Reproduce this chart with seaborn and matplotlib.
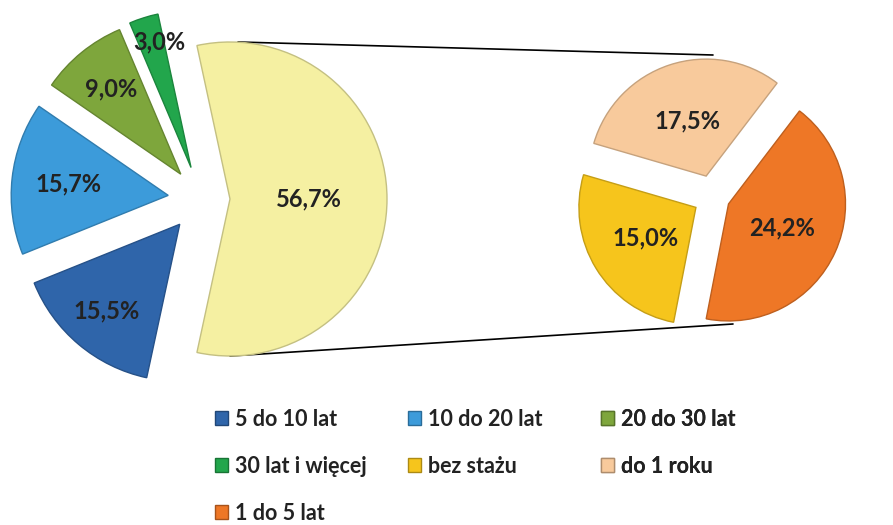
import matplotlib
matplotlib.use("Agg")
import numpy as np
import matplotlib.pyplot as plt
import seaborn as sns
from matplotlib.patches import Patch

# ---------------- data ----------------
main_labels = ["5 do 10 lat", "10 do 20 lat", "20 do 30 lat", "30 lat i więcej"]
main_values = [15.5, 15.7, 9.0, 3.0]
split_value = 56.7                      # share moved to the secondary pie
sub_labels = ["bez stażu", "do 1 roku", "1 do 5 lat"]
sub_values = [15.0, 17.5, 24.2]

main_colors = ["#2F65AA", "#3C9BDA", "#7EA63C", "#22A64C"]
split_color = "#F5F0A2"
sub_colors = ["#F6C51C", "#F8CA9C", "#EE7726"]

# ---------------- style ----------------
sns.set_theme(style="white")
plt.rcParams["font.family"] = ["Lato", "DejaVu Sans"]

W, H = 893, 525
fig = plt.figure(figsize=(W / 100, H / 100), dpi=100)
ax = fig.add_axes([0, 0, 1, 1])


def darker(c, f=0.75):
    r, g, b = matplotlib.colors.to_rgb(c)
    return (r * f, g * f, b * f)


def fmt(v):
    return f"{v:.1f}%".replace(".", ",")


LABEL_KW = dict(ha="center", va="center", fontsize=17, fontweight="bold", color="#222222")

# ---------------- left (primary) pie ----------------
left_vals = [split_value] + main_values[::-1]
left_cols = [split_color] + main_colors[::-1]
left_expl = [29, 33, 32, 33, 33]
left_txtd = [0.50, 0.84, 0.70, 0.64, 0.72]
total = sum(left_vals)
C1, R1 = (201, 326), 157
wl, _ = ax.pie(left_vals, colors=left_cols, explode=left_expl, center=C1, radius=R1,
               startangle=-split_value / total * 180, counterclock=True,
               wedgeprops=dict(linewidth=1.0))
for w, c in zip(wl, left_cols):
    w.set_edgecolor(darker(c, 0.8))
for w, v, d in zip(wl, left_vals, left_txtd):
    th = np.deg2rad((w.theta1 + w.theta2) / 2)
    x = w.center[0] + d * w.r * np.cos(th)
    y = w.center[1] + d * w.r * np.sin(th)
    ax.text(x + (8 if v == 3.0 else 0), y, fmt(v), **LABEL_KW)

# ---------------- right (secondary) pie ----------------
right_vals = sub_values[::-1]
right_cols = sub_colors[::-1]
C2, R2 = (713, 328), 117
right_expl = [17, 22, 20]
wr, _ = ax.pie(right_vals, colors=right_cols, explode=right_expl, center=C2,
               radius=R2, startangle=-101, counterclock=True,
               wedgeprops=dict(linewidth=1.0))
for w, c in zip(wr, right_cols):
    w.set_edgecolor(darker(c, 0.8))
for w, v in zip(wr, right_vals):
    th = np.deg2rad((w.theta1 + w.theta2) / 2)
    x = w.center[0] + 0.5 * w.r * np.cos(th)
    y = w.center[1] + 0.5 * w.r * np.sin(th)
    ax.text(x, y, fmt(v), **LABEL_KW)

# ---------------- connector lines ----------------
ysplit = wl[0]
sx, sy = ysplit.center
ax.plot([sx + 8, C2[0]], [sy + R1, C2[1] + R2 + right_expl[1] + 3],
        color="black", lw=1.2, zorder=0)
ax.plot([sx, C2[0] + 20], [sy - R1, C2[1] - R2 - 10], color="black", lw=1.2, zorder=0)

ax.set_xlim(0, W)
ax.set_ylim(0, H)
ax.set_aspect("equal")
ax.axis("off")

# ---------------- legend (3 fixed-width columns, row-wise order) ----------------
all_labels = main_labels + sub_labels
all_colors = main_colors + sub_colors
col_x = [215, 408, 601]
for j in range(3):
    idx = list(range(j, len(all_labels), 3))
    handles = [Patch(facecolor=all_colors[i], edgecolor=darker(all_colors[i], 0.7),
                     label=all_labels[i]) for i in idx]
    leg = ax.legend(handles=handles, loc="upper left",
                    bbox_to_anchor=(col_x[j] / W, 1 - 409 / H),
                    frameon=False, ncol=1, borderpad=0, borderaxespad=0,
                    handlelength=0.62, handleheight=0.62, handletextpad=0.3,
                    labelspacing=1.2,
                    prop=dict(size=15.5, weight="bold", family=["Lato", "DejaVu Sans"]))
    for t in leg.get_texts():
        t.set_color("#222222")
    ax.add_artist(leg)

fig.savefig("out.png", dpi=100, facecolor="white")
